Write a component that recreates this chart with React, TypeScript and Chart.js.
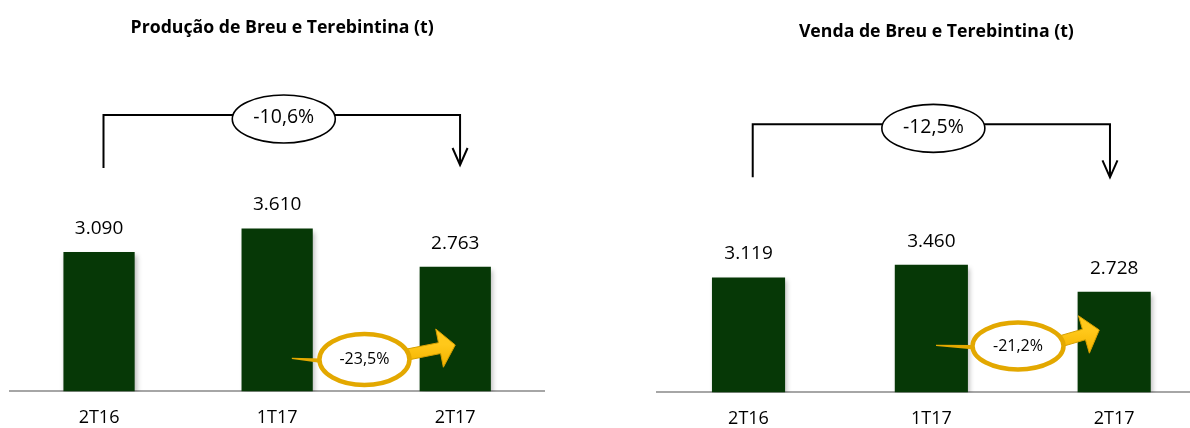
import React, { useEffect, useRef } from 'react';
import { Chart, registerables } from 'chart.js';

Chart.register(...registerables);

const categories = ['2T16', '1T17', '2T17'];
const productionValues = [3090, 3610, 2763];
const salesValues = [3119, 3460, 2728];

const productionTitle = 'Produção de Breu e Terebintina (t)';
const salesTitle = 'Venda de Breu e Terebintina (t)';

const productionYearChange = '-10,6%';
const salesYearChange = '-12,5%';
const productionQuarterChange = '-23,5%';
const salesQuarterChange = '-21,2%';

const BAR_COLOR = '#063806';
const FONT = '"Open Sans", "DejaVu Sans", sans-serif';

function fmt(v: number) {
  return String(v).replace(/\B(?=(\d{3})+(?!\d))/g, '.');
}

const decoPlugin = {
  id: 'deco',
  beforeDatasetsDraw(chart: any) {
    const ctx = chart.ctx;
    ctx.save();
    ctx.shadowColor = 'rgba(0,0,0,0.28)';
    ctx.shadowBlur = 5;
    ctx.shadowOffsetX = 2;
    ctx.shadowOffsetY = 3;
  },
  afterDatasetsDraw(chart: any) {
    chart.ctx.restore();
  },
  afterDraw(chart: any, _args: any, o: any) {
    const { ctx, chartArea } = chart;
    const xs = chart.scales.x;
    const ys = chart.scales.y;
    const meta = chart.getDatasetMeta(0);
    const vals = chart.data.datasets[0].data;
    ctx.save();
    ctx.fillStyle = '#000';
    ctx.textAlign = 'center';
    ctx.textBaseline = 'middle';

    // title
    ctx.font = `bold 17.7px ${FONT}`;
    ctx.fillText(o.title, (chartArea.left + chartArea.right) / 2 + 5, o.titleY);

    // value labels
    ctx.font = `19px ${FONT}`;
    meta.data.forEach((b: any, i: number) => {
      ctx.fillText(fmt(vals[i]), b.x, b.y - 23.5);
    });

    // bracket with total change
    const br = o.bracket;
    const xl = xs.getPixelForValue(br.from);
    const xr = xs.getPixelForValue(br.to);
    const yt = ys.getPixelForValue(br.top);
    const ylb = ys.getPixelForValue(br.leftBottom);
    const yrb = ys.getPixelForValue(br.rightBottom);
    const rx = 51.5;
    const ry = 24;
    const cx = (xl + xr) / 2 + 2;
    const cy = yt + 4;
    const k = Math.sqrt(Math.max(0, 1 - ((yt - cy) / ry) ** 2));
    ctx.strokeStyle = '#000';
    ctx.lineWidth = 2;
    ctx.lineCap = 'butt';
    ctx.beginPath();
    ctx.moveTo(xl, ylb);
    ctx.lineTo(xl, yt);
    ctx.lineTo(cx - rx * k, yt);
    ctx.moveTo(cx + rx * k, yt);
    ctx.lineTo(xr, yt);
    ctx.lineTo(xr, yrb);
    ctx.stroke();
    ctx.beginPath();
    ctx.moveTo(xr - 7.5, yrb - 17);
    ctx.lineTo(xr, yrb);
    ctx.lineTo(xr + 7.5, yrb - 17);
    ctx.stroke();
    ctx.beginPath();
    ctx.ellipse(cx, cy, rx, ry, 0, 0, Math.PI * 2);
    ctx.fillStyle = '#fff';
    ctx.fill();
    ctx.lineWidth = 1.6;
    ctx.stroke();
    ctx.fillStyle = '#000';
    ctx.font = `19.5px ${FONT}`;
    ctx.fillText(br.text, cx, cy - 1);

    // quarter change: tail, arrow, ellipse
    const ch = o.change;
    const ex = xs.getPixelForValue(ch.cx);
    const ey = ys.getPixelForValue(ch.cy);
    const erx = ch.rx;
    const ery = ch.ry;
    const tx = xs.getPixelForValue(ch.tailX);
    const ty = ys.getPixelForValue(ch.tailY);
    ctx.fillStyle = '#E3A800';
    ctx.beginPath();
    ctx.moveTo(tx, ty - 0.6);
    ctx.lineTo(ex - erx + 2, ey - 1);
    ctx.lineTo(ex - erx + 2, ey + 3.5);
    ctx.lineTo(tx, ty + 0.8);
    ctx.closePath();
    ctx.fill();

    const sx = ex + erx - 2;
    const sy = ey - 5;
    const px = xs.getPixelForValue(ch.tipX);
    const py = ys.getPixelForValue(ch.tipY);
    let dx = px - sx;
    let dy = py - sy;
    const len = Math.hypot(dx, dy);
    dx /= len;
    dy /= len;
    const nx = -dy;
    const ny = dx;
    const headLen = 16;
    const headW = 19.5;
    const shaftW = 5.5;
    const bx = px - dx * headLen;
    const by = py - dy * headLen;
    const grad = ctx.createLinearGradient(sx, sy - 10, sx, sy + 10);
    grad.addColorStop(0, '#FFC81A');
    grad.addColorStop(1, '#F5B400');
    ctx.fillStyle = grad;
    ctx.strokeStyle = '#D49E00';
    ctx.lineWidth = 1;
    ctx.beginPath();
    ctx.moveTo(sx + nx * shaftW, sy + ny * shaftW);
    ctx.lineTo(bx + nx * shaftW, by + ny * shaftW);
    ctx.lineTo(bx + nx * headW, by + ny * headW);
    ctx.lineTo(px, py);
    ctx.lineTo(bx - nx * headW, by - ny * headW);
    ctx.lineTo(bx - nx * shaftW, by - ny * shaftW);
    ctx.lineTo(sx - nx * shaftW, sy - ny * shaftW);
    ctx.closePath();
    ctx.fill();
    ctx.stroke();

    ctx.beginPath();
    ctx.ellipse(ex, ey, erx, ery, 0, 0, Math.PI * 2);
    ctx.fillStyle = '#fff';
    ctx.fill();
    ctx.strokeStyle = '#E3A800';
    ctx.lineWidth = 4.5;
    ctx.stroke();
    ctx.fillStyle = '#000';
    ctx.font = `16px ${FONT}`;
    ctx.fillText(ch.text, ex, ey);

    ctx.restore();
  },
};

function makeChart(canvas: HTMLCanvasElement, cfg: any) {
  return new Chart(canvas, {
    type: 'bar',
    data: {
      labels: categories,
      datasets: [
        {
          data: cfg.values,
          backgroundColor: BAR_COLOR,
          borderWidth: 0,
          barPercentage: 0.4,
          categoryPercentage: 1,
        },
      ],
    },
    options: {
      responsive: true,
      maintainAspectRatio: false,
      animation: false,
      events: [],
      layout: { padding: cfg.padding },
      plugins: {
        legend: { display: false },
        tooltip: { enabled: false },
        title: { display: false },
        deco: cfg.deco,
      } as any,
      scales: {
        x: {
          grid: { display: false, drawTicks: false },
          border: { display: true, color: '#A6A6A6', width: 2 },
          ticks: { color: '#000', font: { family: FONT, size: 18 }, padding: 16 },
        },
        y: { display: false, min: 0, max: cfg.max },
      },
    },
    plugins: [decoPlugin],
  });
}

export default function App() {
  const leftRef = useRef<HTMLCanvasElement>(null);
  const rightRef = useRef<HTMLCanvasElement>(null);

  useEffect(() => {
    const left = makeChart(leftRef.current!, {
      values: productionValues,
      max: 7000,
      padding: { left: 10, right: 50.7, top: 75.7, bottom: 0 },
      deco: {
        title: productionTitle,
        titleY: 28.3,
        bracket: { from: 0.025, to: 2.027, top: 6130, leftBottom: 4953, rightBottom: 5020, text: productionYearChange },
        change: { cx: 1.49, cy: 707, rx: 45, ry: 25.5, tailX: 1.0825, tailY: 734, tipX: 2.0, tipY: 1029, text: productionQuarterChange },
      },
    });
    const right = makeChart(rightRef.current!, {
      values: salesValues,
      max: 8500,
      padding: { left: 62.1, right: 4.4, top: 79.1, bottom: 0 },
      deco: {
        title: salesTitle,
        titleY: 31.7,
        bracket: { from: 0.023, to: 1.977, top: 7273, leftBottom: 5836, rightBottom: 5836, text: salesYearChange },
        change: { cx: 1.474, cy: 1259, rx: 45.5, ry: 23.5, tailX: 1.0254, tailY: 1278, tipX: 1.9185, tipY: 1693, text: salesQuarterChange },
      },
    });
    return () => {
      left.destroy();
      right.destroy();
    };
  }, []);

  return (
    <div style={{ position: 'fixed', left: 0, top: 0, width: 1190, height: 428, overflow: 'hidden', background: '#fff' }}>
      <div style={{ position: 'absolute', left: 0, top: 0, width: 595, height: 445 }}>
        <canvas ref={leftRef} />
      </div>
      <div style={{ position: 'absolute', left: 595, top: 0, width: 615, height: 446 }}>
        <canvas ref={rightRef} />
      </div>
    </div>
  );
}
